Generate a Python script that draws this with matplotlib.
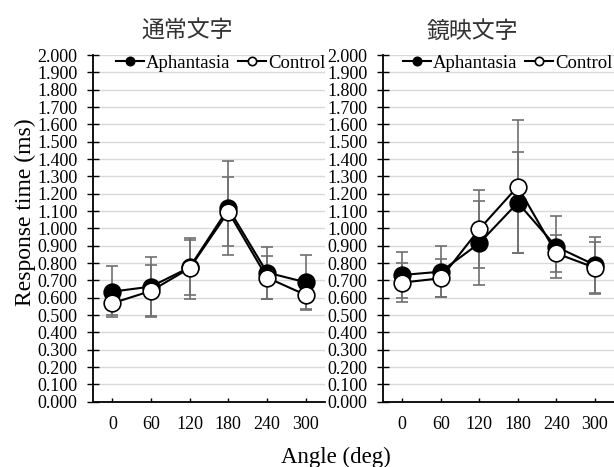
import matplotlib
matplotlib.use("Agg")
import matplotlib.pyplot as plt
import numpy as np

angles = ["0", "60", "120", "180", "240", "300"]
yticks = [round(0.1 * i, 1) for i in range(21)]

titles = ["通常文字", "鏡映文字"]

# Panel 1: 通常文字
normal_aph = [0.635, 0.664, 0.775, 1.116, 0.745, 0.689]
normal_aph_err = [0.148, 0.172, 0.160, 0.270, 0.150, 0.160]
normal_ctl = [0.568, 0.639, 0.770, 1.096, 0.716, 0.616]
normal_ctl_err = [0.068, 0.148, 0.175, 0.200, 0.125, 0.080]

# Panel 2: 鏡映文字
mirror_aph = [0.731, 0.750, 0.914, 1.148, 0.894, 0.789]
mirror_aph_err = [0.135, 0.148, 0.242, 0.290, 0.180, 0.160]
mirror_ctl = [0.687, 0.712, 0.995, 1.241, 0.856, 0.773]
mirror_ctl_err = [0.113, 0.110, 0.225, 0.385, 0.105, 0.150]

serif = ["Liberation Serif", "DejaVu Serif"]
cjk = ["Noto Sans CJK JP", "DejaVu Sans"]

W, H = 614, 467
fig = plt.figure(figsize=(W / 100, H / 100), dpi=100)

axes_px = [(93, 55, 325, 401.7), (383, 55, 614, 401.7)]
title_pos = [187, 472]
legend_left = [116, 403]
data = [
    (normal_aph, normal_aph_err, normal_ctl, normal_ctl_err),
    (mirror_aph, mirror_aph_err, mirror_ctl, mirror_ctl_err),
]

x = np.arange(len(angles))
for i, ((x0, y0, x1, y1), (a, ae, c, ce)) in enumerate(zip(axes_px, data)):
    ax = fig.add_axes([x0 / W, 1 - y1 / H, (x1 - x0) / W, (y1 - y0) / H])
    ax.set_xlim(-0.5, len(angles) - 0.5)
    ax.set_ylim(0, 2.0)
    ax.set_yticks(yticks)
    ax.set_yticklabels([f"{v:.3f}" for v in yticks], fontfamily=serif, fontsize=13)
    ax.set_xticks(x)
    ax.set_xticklabels(angles, fontfamily=serif, fontsize=13)
    ax.grid(axis="y", color="#d9d9d9", linewidth=1.0)
    ax.set_axisbelow(True)
    for s in ["top", "right"]:
        ax.spines[s].set_visible(False)
    for s in ["left", "bottom"]:
        ax.spines[s].set_color("black")
        ax.spines[s].set_linewidth(1.3)
    ax.tick_params(axis="y", direction="inout", length=8, width=1.0, pad=7, colors="black")
    ax.tick_params(axis="x", direction="in", length=3, width=1.0, pad=10, colors="black")

    ax.errorbar(x, a, yerr=ae, fmt="none", ecolor="#707070", elinewidth=1.2,
                capsize=4, capthick=1.2, zorder=2)
    ax.errorbar(x, c, yerr=ce, fmt="none", ecolor="#707070", elinewidth=1.2,
                capsize=4, capthick=1.2, zorder=2)
    ax.plot(x, a, "-o", color="black", lw=1.5, markersize=12,
            markerfacecolor="black", markeredgecolor="black", markeredgewidth=1.2,
            label="Aphantasia", zorder=3)
    ax.plot(x, c, "-o", color="black", lw=1.5, markersize=12,
            markerfacecolor="white", markeredgecolor="black", markeredgewidth=1.2,
            label="Control", zorder=4)
    lx = (legend_left[i] - x0) / (x1 - x0)
    ly = (y1 - 63) / (y1 - y0)
    ax.legend(loc="center left", bbox_to_anchor=(lx, ly), ncol=2, frameon=False,
              prop={"family": serif, "size": 13.5}, markerscale=0.5,
              handlelength=1.5, handletextpad=0.1, columnspacing=0.4,
              borderaxespad=0.0, borderpad=0.0)
    fig.text(title_pos[i] / W, 1 - 31 / H, titles[i], ha="center", va="center",
             fontsize=16.5, family=cjk, color="#333333")

fig.text(25 / W, 1 - 212 / H, "Response time (ms)", rotation=90, ha="center",
         va="center", fontsize=17, family=serif)
fig.text(336 / W, 1 - 457 / H, "Angle (deg)", ha="center", va="center",
         fontsize=16.5, family=serif)

fig.savefig("out.png", dpi=100)
